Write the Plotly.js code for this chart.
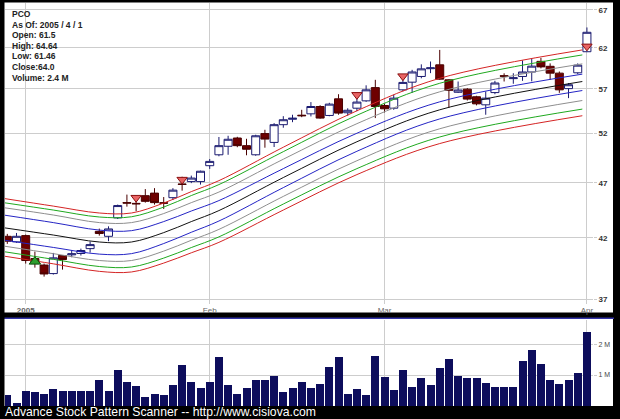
<!DOCTYPE html>
<html><head><meta charset="utf-8">
<script src="https://cdn.plot.ly/plotly-3.0.1.min.js"></script>
<style>html,body{margin:0;padding:0;background:#000;}#chart{width:620px;height:419px;}</style>
</head><body><div id="chart"></div>
<script>
// ---- data ----
const dates = ['2004-12-30','2004-12-31',
 '2005-01-03','2005-01-04','2005-01-05','2005-01-06','2005-01-07','2005-01-10','2005-01-11','2005-01-12','2005-01-13','2005-01-14',
 '2005-01-18','2005-01-19','2005-01-20','2005-01-21','2005-01-24','2005-01-25','2005-01-26','2005-01-27','2005-01-28','2005-01-31',
 '2005-02-01','2005-02-02','2005-02-03','2005-02-04','2005-02-07','2005-02-08','2005-02-09','2005-02-10','2005-02-11','2005-02-14',
 '2005-02-15','2005-02-16','2005-02-17','2005-02-18','2005-02-22','2005-02-23','2005-02-24','2005-02-25','2005-02-28',
 '2005-03-01','2005-03-02','2005-03-03','2005-03-04','2005-03-07','2005-03-08','2005-03-09','2005-03-10','2005-03-11','2005-03-14',
 '2005-03-15','2005-03-16','2005-03-17','2005-03-18','2005-03-21','2005-03-22','2005-03-23','2005-03-24','2005-03-28','2005-03-29',
 '2005-03-30','2005-03-31','2005-04-01'];
const openP  = [42.13,41.65,42.19,40.25,39.72,39.03,40.50,40.56,40.67,41.08,42.56,42.13,43.75,45.14,45.07,45.79,46.03,45.13,45.60,46.90,47.13,47.13,
 48.69,49.79,50.67,51.53,50.73,49.79,52.00,51.07,52.96,53.55,54.00,54.15,54.97,53.97,55.84,54.27,54.78,55.61,57.14,
 55.08,54.78,56.88,57.78,58.46,59.40,59.87,58.06,56.60,56.96,56.08,55.16,56.56,58.55,58.20,58.46,59.00,60.30,59.69,58.86,57.02,58.90,61.50];
const highP  = [42.34,42.42,42.28,40.83,39.84,40.72,40.54,40.96,41.08,41.68,42.80,43.00,44.96,45.89,45.56,46.41,46.50,45.66,46.50,47.60,47.71,48.20,
 49.36,51.64,51.77,51.66,51.45,51.88,52.41,53.13,53.89,54.05,54.60,55.47,55.11,55.39,56.37,54.77,55.89,57.41,58.06,
 55.27,56.31,58.57,59.26,59.93,60.28,61.73,58.12,57.86,57.08,56.19,56.68,57.94,58.84,58.85,60.42,60.66,60.73,60.05,59.06,57.68,60.05,64.64];
const lowP   = [41.48,41.57,39.84,39.51,38.79,38.95,39.35,40.36,40.50,40.75,42.19,41.71,43.65,44.77,44.36,45.14,44.96,44.56,45.38,46.26,46.98,46.84,
 48.37,49.64,49.79,50.57,49.74,49.69,50.52,50.59,52.63,53.23,53.78,53.86,53.61,53.88,54.05,53.94,54.44,55.50,53.68,
 54.30,54.60,56.70,56.53,58.24,58.86,58.06,54.82,56.52,55.65,55.10,54.05,56.37,57.86,57.59,57.94,57.88,59.44,58.06,56.53,55.92,58.74,61.46];
const closeP = [41.71,42.13,40.09,39.84,39.00,40.31,40.17,40.64,40.92,41.42,42.37,42.77,44.87,45.10,45.03,45.26,45.14,45.09,46.31,46.86,47.47,48.14,
 49.12,50.73,51.40,50.73,50.36,51.77,51.42,52.96,53.50,53.66,53.94,54.97,53.68,55.24,54.23,54.55,55.47,56.88,54.97,
 54.71,55.92,57.75,59.00,59.38,59.50,58.14,56.82,56.86,55.81,55.27,55.92,57.68,58.49,58.30,59.00,59.71,59.62,58.86,56.88,57.48,59.83,64.00];
const volumeM = [0.34,0.10,0.48,0.46,0.40,0.55,0.48,0.48,0.50,0.50,0.85,0.50,1.16,0.77,0.63,0.30,0.40,0.37,0.68,1.31,0.77,0.59,
 0.77,1.57,0.68,0.38,0.59,0.85,0.85,0.97,0.46,0.59,0.77,0.59,0.70,1.25,1.59,0.38,0.56,0.34,1.61,
 0.94,0.53,1.17,0.60,0.91,0.68,1.23,1.52,0.98,0.91,0.89,0.75,0.60,0.62,0.60,1.44,1.81,1.36,0.83,0.70,0.83,1.05,2.40];

const tickDates  = ['2005-01-03','2005-02-01','2005-03-01','2005-04-01'];
const tickLabels = ['<b>2005</b>','Feb','Mar','Apr'];
const priceTicks = [37,42,47,52,57,62,67];
const volTicks = [1,2];
const volTickLabels = ['1 M','2 M'];

const sellDates = ['2005-01-20','2005-01-27','2005-02-24','2005-03-03','2005-04-01'];
const sellPrice = [45.6,47.32,56.3,58.5,62.18];
const buyDates  = ['2005-01-04'];
const buyPrice  = [40.0];

// envelope lines, positions in trading days from 2005-01-03
const bandPos = [-2.25,3,8,11.5,15,18,21,28,36,45,60.5];
const redUp   = [45.51,44.82,44.19,44.19,45.10,46.17,47.22,50.57,54.49,58.24,61.73];
const greenUp = [45.12,44.46,43.83,43.85,44.73,45.80,46.84,50.11,53.99,57.65,61.10];
const grayUp  = [44.66,44.01,43.33,43.33,44.14,45.14,46.13,49.34,53.07,56.65,59.99];
const blueUp  = [43.99,43.33,42.67,42.62,43.42,44.37,45.33,48.40,52.04,55.50,58.74];
const center  = [42.86,42.24,41.64,41.64,42.45,43.42,44.41,47.52,51.14,54.60,57.86];
const blueLo  = [41.79,41.18,40.62,40.66,41.51,42.48,43.47,46.55,50.15,53.59,56.80];
const grayLo  = [41.28,40.66,40.09,40.09,40.87,41.79,42.73,45.72,49.19,52.52,55.65];
const greenLo = [40.81,40.19,39.60,39.56,40.29,41.17,42.08,45.01,48.40,51.64,54.68];
const redLo   = [40.44,39.82,39.21,39.16,39.88,40.73,41.61,44.46,47.81,50.95,53.94];

const infoLines = ['PCO','As Of: 2005 / 4 / 1','Open: 61.5','High: 64.64','Low: 61.46','Close:64.0','Volume: 2.4 M'];
const footer = 'Advance Stock Pattern Scanner -- http://www.cisiova.com';

// ---- build ----
const base = dates.indexOf('2005-01-03');
const pos = d => dates.indexOf(d) - base;
const xPos = dates.map(pos);

const bands = [
  [redUp,'#d42424'],[greenUp,'#1fa81f'],[grayUp,'#8e8e8e'],[blueUp,'#2424c4'],[center,'#111111'],
  [blueLo,'#2424c4'],[grayLo,'#8e8e8e'],[greenLo,'#1fa81f'],[redLo,'#d42424']
];
const traces = bands.map(([ys,c]) => ({
  type:'scatter', mode:'lines', x:bandPos, y:ys, xaxis:'x', yaxis:'y',
  line:{color:c, width:1, shape:'spline', smoothing:1}, hoverinfo:'skip'
}));
traces.push({
  type:'candlestick', x:xPos, open:openP, high:highP, low:lowP, close:closeP, xaxis:'x', yaxis:'y',
  increasing:{line:{color:'#1a1a70', width:1}, fillcolor:'#ffffff'},
  decreasing:{line:{color:'#4a0000', width:1}, fillcolor:'#6e0000'},
  whiskerwidth:0
});
traces.push({
  type:'scatter', mode:'markers', x:sellDates.map(pos), y:sellPrice, xaxis:'x', yaxis:'y',
  marker:{symbol:'triangle-down', size:9, color:'#e86464', line:{color:'#8a1010', width:1}}
});
traces.push({
  type:'scatter', mode:'markers', x:buyDates.map(pos), y:buyPrice, xaxis:'x', yaxis:'y',
  marker:{symbol:'triangle-up', size:10, color:'#2e9e2e', line:{color:'#0d500d', width:1}}
});
traces.push({
  type:'bar', x:xPos, y:volumeM, xaxis:'x2', yaxis:'y2', width:0.87,
  marker:{color:'#0d0d5c', line:{width:0}}
});

const W=620, H=419, L=5, R=593, T=3, B=406.5;
const px = x => (x - L)/(R - L);
const py = y => (B - y)/(B - T);
const xr = [-2.25, 61.66];
const gridc = '#cdcdcd';

const annotations = infoLines.map((t,i) => ({
  text:'<b>' + t + '</b>', xref:'paper', yref:'paper', x:px(9.5), y:py(14 + i*10.6), xanchor:'left', yanchor:'middle',
  showarrow:false, font:{family:'Arial', size:8.5, color:'#222'}
}));
annotations.push({text:footer, xref:'paper', yref:'paper', x:px(3), y:py(413), xanchor:'left', yanchor:'middle',
  showarrow:false, font:{family:'Arial', size:12.2, color:'#ffffff'}});

const layout = {
  width:W, height:H, margin:{l:L, r:W-R, t:T, b:H-B, pad:0},
  paper_bgcolor:'#000000', plot_bgcolor:'#ffffff', showlegend:false, boxgap:0.13, boxgroupgap:0, bargap:0,
  xaxis:{range:xr, domain:[0,1], anchor:'y', tickmode:'array', tickvals:tickDates.map(pos), ticktext:tickLabels,
    showgrid:true, gridcolor:gridc, gridwidth:1, zeroline:false, showline:false, ticks:'',
    tickfont:{family:'Arial', size:8, color:'#666'}, rangeslider:{visible:false}, fixedrange:true},
  yaxis:{type:'log', range:[Math.log10(36.7), Math.log10(67.96)], domain:[py(304),1], side:'right', anchor:'x',
    tickmode:'array', tickvals:priceTicks, ticktext:priceTicks.map(String), showgrid:true, gridcolor:gridc,
    zeroline:false, showline:false, ticks:'outside', ticklen:3, tickcolor:gridc,
    tickfont:{family:'Arial', size:8, color:'#333', weight:'bold'}},
  xaxis2:{range:xr, domain:[0,1], anchor:'y2', tickmode:'array', tickvals:tickDates.map(pos), showticklabels:false,
    showgrid:true, gridcolor:gridc, zeroline:false, showline:false, ticks:''},
  yaxis2:{range:[0,2.79], domain:[0,py(320)], side:'right', anchor:'x2', tickmode:'array', tickvals:volTicks, ticktext:volTickLabels,
    showgrid:true, gridcolor:gridc, zeroline:false, showline:false, ticks:'outside', ticklen:3, tickcolor:gridc,
    tickfont:{family:'Arial', size:7, color:'#444'}},
  shapes:[
    {type:'rect', xref:'paper', yref:'paper', x0:px(4.5), x1:px(613), y0:py(313), y1:py(2.5), fillcolor:'#ffffff', line:{width:0}, layer:'below'},
    {type:'rect', xref:'paper', yref:'paper', x0:px(4.5), x1:px(613), y0:py(406.5), y1:py(319.5), fillcolor:'#ffffff', line:{width:0}, layer:'below'},
    {type:'line', xref:'paper', yref:'paper', x0:px(4.5), x1:px(614), y0:py(318.6), y1:py(318.6), line:{color:'#3434a8', width:1.5}}
  ],
  annotations
};
Plotly.newPlot('chart', traces, layout, {staticPlot:true, displayModeBar:false});
</script></body></html>
